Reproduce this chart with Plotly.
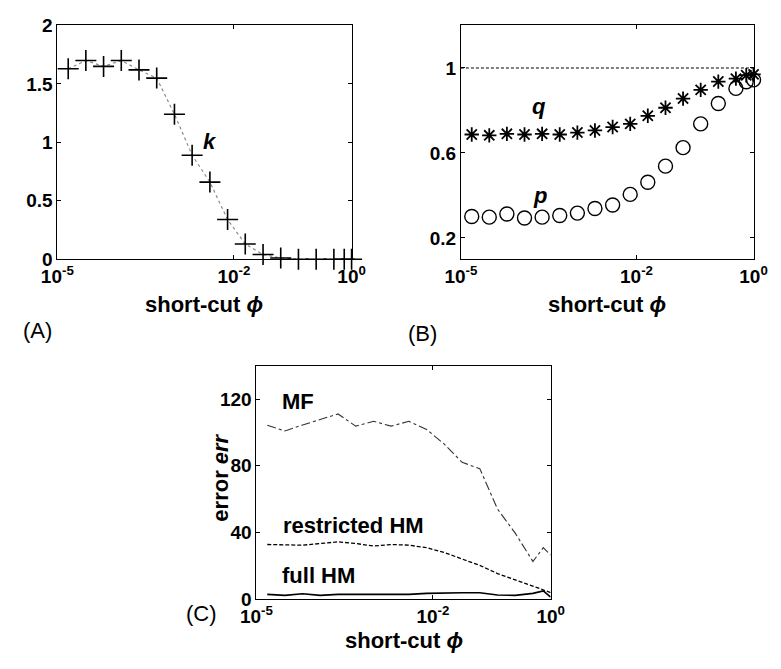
import plotly.graph_objects as go

# ---- data ----
phi = [1.53e-5, 3.05e-5, 6.10e-5, 1.22e-4, 2.44e-4, 4.88e-4, 9.77e-4, 1.95e-3,
       3.91e-3, 7.81e-3, 1.56e-2, 3.13e-2, 6.25e-2, 0.125, 0.25, 0.5, 0.75, 1.0]

k_vals = [1.63, 1.70, 1.65, 1.70, 1.62, 1.55, 1.24, 0.89, 0.66, 0.34, 0.13,
          0.04, 0.01, 0.0, 0.0, 0.0, 0.0, 0.0]

q_vals = [0.687, 0.683, 0.690, 0.687, 0.690, 0.687, 0.696, 0.706, 0.722, 0.737,
          0.775, 0.813, 0.856, 0.897, 0.936, 0.950, 0.966, 0.970]
p_vals = [0.301, 0.298, 0.313, 0.294, 0.298, 0.306, 0.317, 0.339, 0.355, 0.405,
          0.462, 0.538, 0.625, 0.737, 0.833, 0.904, 0.935, 0.944]

ref_x = [1e-5, 1.0]
ref_y = [1.0, 1.0]

mf_err = [104.3, 100.9, 104.5, 108.0, 111.1, 103.8, 106.7, 103.8, 106.7, 101.8,
          93.0, 82.1, 78.3, 54.1, 39.6, 22.6, 30.9, 26.4]
rhm_err = [32.8, 32.4, 32.4, 33.4, 34.4, 33.4, 31.9, 32.8, 32.4, 30.9,
           28.0, 24.1, 20.3, 15.4, 11.6, 7.7, 5.8, 4.0]
fhm_err = [2.9, 2.3, 3.3, 2.3, 2.9, 2.9, 2.9, 2.9, 2.9, 3.5,
           3.9, 3.9, 3.9, 2.5, 2.3, 3.5, 5.0, 1.3]

x_tickvals = [1e-5, 1e-2, 1.0]
x_ticktext = ["10<sup>-5</sup>", "10<sup>-2</sup>", "10<sup>0</sup>"]

W, H = 781, 669
FONT = "Liberation Sans, Arial, Helvetica, sans-serif"

def px(x):
    return x / W

def py(y):
    return 1 - y / H

fig = go.Figure()

# Panel A
fig.add_trace(go.Scatter(x=phi, y=k_vals, mode="lines+markers",
                         line=dict(color="#8a8a8a", width=1.2, dash="dot"),
                         marker=dict(symbol="cross-thin-open", size=15, color="black",
                                     line=dict(color="black", width=1.6)),
                         cliponaxis=False, xaxis="x", yaxis="y", showlegend=False))

# Panel B
fig.add_trace(go.Scatter(x=ref_x, y=ref_y, mode="lines",
                         line=dict(color="black", width=1, dash="3px,2px"),
                         xaxis="x2", yaxis="y2", showlegend=False))
fig.add_trace(go.Scatter(x=phi, y=q_vals, mode="markers",
                         marker=dict(symbol="asterisk-open", size=12, color="black",
                                     line=dict(color="black", width=1.8)),
                         cliponaxis=False, xaxis="x2", yaxis="y2", showlegend=False))
fig.add_trace(go.Scatter(x=phi, y=p_vals, mode="markers",
                         marker=dict(symbol="circle-open", size=14, color="black",
                                     line=dict(color="black", width=1.4)),
                         cliponaxis=False, xaxis="x2", yaxis="y2", showlegend=False))

# Panel C
fig.add_trace(go.Scatter(x=phi, y=mf_err, mode="lines",
                         line=dict(color="#333333", width=1.1, dash="dashdot"),
                         xaxis="x3", yaxis="y3", showlegend=False))
fig.add_trace(go.Scatter(x=phi, y=rhm_err, mode="lines",
                         line=dict(color="black", width=1.3, dash="4px,2px"),
                         xaxis="x3", yaxis="y3", showlegend=False))
fig.add_trace(go.Scatter(x=phi, y=fhm_err, mode="lines",
                         line=dict(color="black", width=1.6),
                         xaxis="x3", yaxis="y3", showlegend=False))

tickfont = dict(family=FONT, size=19, color="black", weight="bold")

def xax(domain, anchor):
    return dict(type="log", range=[-5, 0], domain=domain, anchor=anchor,
                tickvals=x_tickvals, ticktext=x_ticktext, ticks="inside",
                ticklen=4, tickcolor="black", showline=True, linecolor="black",
                linewidth=1, mirror="ticks", showgrid=False, zeroline=False,
                tickfont=tickfont)

def yax(domain, anchor, rng, tickvals):
    return dict(range=rng, domain=domain, anchor=anchor, tickvals=tickvals,
                ticks="inside", ticklen=4, tickcolor="black", showline=True,
                linecolor="black", linewidth=1, mirror="ticks", showgrid=False,
                zeroline=False, tickfont=tickfont)

yA = [py(257.3), py(16)]
yC = [py(608.3), py(367.3)]

fig.update_layout(
    width=W, height=H, margin=dict(l=0, r=0, t=0, b=0),
    paper_bgcolor="white", plot_bgcolor="white",
    font=dict(family=FONT, color="black"),
    xaxis=xax([px(43), px(349)], "y"),
    yaxis=yax(yA, "x", [0, 2], [0, 0.5, 1, 1.5, 2]),
    xaxis2=xax([px(462.7), px(767)], "y2"),
    yaxis2=yax(yA, "x2", [0.1, 1.2], [0.2, 0.6, 1.0]),
    xaxis3=xax([px(250), px(556)], "y3"),
    yaxis3=yax(yC, "x3", [0, 140], [0, 40, 80, 120]),
)

lab = dict(family=FONT, size=22, color="black", weight="bold")
C = dict(xanchor="center", yanchor="middle", showarrow=False)
ann = []
# curve labels
ann.append(dict(x=-2.407, y=1.009, xref="x", yref="y", text="<i>k</i>", font=lab, **C))
ann.append(dict(x=-3.674, y=0.818, xref="x2", yref="y2", text="<i>q</i>", font=lab, **C))
ann.append(dict(x=-3.646, y=0.398, xref="x2", yref="y2", text="<i>p</i>", font=lab, **C))
ann.append(dict(x=-4.285, y=118.4, xref="x3", yref="y3", text="MF", font=lab, **C))
ann.append(dict(x=-3.358, y=44.1, xref="x3", yref="y3", text="restricted HM", font=lab, **C))
ann.append(dict(x=-3.944, y=14.1, xref="x3", yref="y3", text="full HM", font=lab, **C))
# axis titles
for cx, cy in [(196, 304), (615, 304), (403, 650.6)]:
    ann.append(dict(x=px(cx), y=py(cy), xref="paper", yref="paper",
                    text="short-cut <i>ϕ</i>", font=lab, **C))
ann.append(dict(x=px(213), y=py(483), xref="paper", yref="paper",
                text="error <i>err</i>", textangle=-90, font=lab, **C))
# panel labels
pl = dict(family=FONT, size=22, color="black")
ann.append(dict(x=px(22), y=py(331), xref="paper", yref="paper", text="(A)", font=pl, **C))
ann.append(dict(x=px(423), y=py(334), xref="paper", yref="paper", text="(B)", font=pl, **C))
ann.append(dict(x=px(193), y=py(623), xref="paper", yref="paper", text="(C)", font=pl, **C))
fig.update_layout(annotations=ann)

fig.write_html("out.html")
